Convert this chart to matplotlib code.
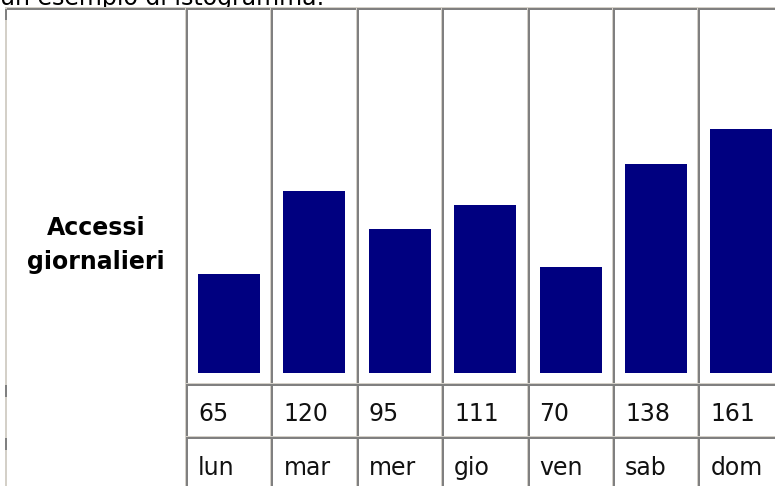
import matplotlib
matplotlib.use("Agg")
import matplotlib.pyplot as plt
from matplotlib.patches import Rectangle

# accessi giornalieri per giorno della settimana
giorni = ["lun", "mar", "mer", "gio", "ven", "sab", "dom"]
accessi = [65, 120, 95, 111, 70, 138, 161]
titolo = "un esempio di istogramma:"
etichetta = ["Accessi", "giornalieri"]

W, H = 775, 486
SCURO = "#808080"
CHIARO = "#d4d0c8"
BLU = "#000080"

# griglia della tabella (pixel)
X0 = 186.0          # bordo sinistro della prima colonna dei giorni
COL = 85.4          # larghezza di una colonna
Y_TOP = 7.0
Y_BASE = 372.7      # base delle barre
Y_RIGA1 = 383.0     # separatore barre / valori
Y_RIGA2 = 436.0     # separatore valori / giorni
PX_PER_ACCESSO = 1.515
FS = 17


def rett(ax, x, y, w, h, color, z=3):
    ax.add_patch(Rectangle((x, y), w, h, facecolor=color, edgecolor="none",
                           antialiased=False, zorder=z))


fig = plt.figure(figsize=(W / 100, H / 100), dpi=100)
ax = fig.add_axes([0, 0, 1, 1])
ax.set_xlim(0, W)
ax.set_ylim(H, 0)
ax.axis("off")

# titolo, tagliato dal bordo superiore
ax.text(0, 5, titolo, fontsize=FS, family="DejaVu Sans", va="baseline",
        ha="left", color="#000000", zorder=1)
rett(ax, 0, Y_TOP, W, H, "white", z=2)

# bordo superiore e sinistro
rett(ax, 5, Y_TOP, W, 1, CHIARO)
rett(ax, 5, Y_TOP + 1, W, 2, SCURO)
rett(ax, 5, Y_TOP, 1.5, H, CHIARO)
for ya, yb in [(9, 20), (385, 397), (438, 450)]:
    rett(ax, 5, ya, 1.5, yb - ya, SCURO, z=4)

# linee verticali tra le colonne
for i in range(len(giorni)):
    x = X0 + COL * i
    rett(ax, x - 1, Y_TOP + 1, 1, H, CHIARO)
    rett(ax, x, Y_TOP + 1, 2, H, SCURO)

# separatori orizzontali delle righe valori / giorni
for y in (Y_RIGA1, Y_RIGA2):
    rett(ax, X0, y, W, 1.2, CHIARO)
    rett(ax, X0, y + 1.2, W, 1.8, SCURO)

# etichetta della riga
ax.text(96, 235, etichetta[0], fontsize=FS, fontweight="bold",
        family="DejaVu Sans", ha="center", va="baseline", zorder=5)
ax.text(96, 268.5, etichetta[1], fontsize=FS, fontweight="bold",
        family="DejaVu Sans", ha="center", va="baseline", zorder=5)

# valori e giorni
for i, (g, v) in enumerate(zip(giorni, accessi)):
    x = X0 + COL * i + 12
    ax.text(x, 421, str(v), fontsize=FS, family="DejaVu Sans",
            ha="left", va="baseline", color="#111111", zorder=5)
    ax.text(x, 475, g, fontsize=FS, family="DejaVu Sans",
            ha="left", va="baseline", color="#111111", zorder=5)

# barre: asse verticale in numero di accessi
bx = fig.add_axes([0, (H - Y_BASE) / H, 1, (Y_BASE - Y_TOP) / H])
bx.set_xlim(0, W)
bx.set_ylim(0, (Y_BASE - Y_TOP) / PX_PER_ACCESSO)
bx.axis("off")
bx.patch.set_visible(False)
centri = [X0 + COL * i + 43 for i in range(len(giorni))]
bx.bar(centri, accessi, width=62, color=BLU, antialiased=False)

fig.savefig("out.png", dpi=100)
